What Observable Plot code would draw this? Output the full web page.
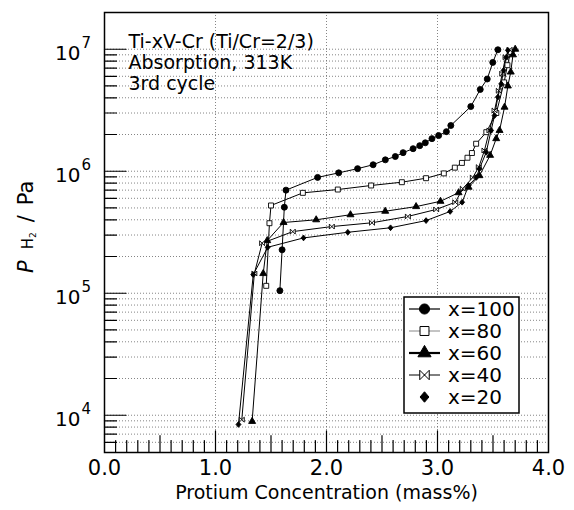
<!DOCTYPE html>
<html><head><meta charset="utf-8">
<script src="https://cdn.jsdelivr.net/npm/d3@7"></script>
<script src="https://cdn.jsdelivr.net/npm/@observablehq/plot@0.6"></script>
<style>body{margin:0;background:#fff;}</style>
</head><body><div id="chart"></div>
<script>
// ---- data ----
const seriesNames = ["x=100", "x=80", "x=60", "x=40", "x=20"];
const c100 = [1.58, 1.60, 1.62, 1.635, 1.92, 2.11, 2.28, 2.42, 2.53, 2.62, 2.69, 2.78, 2.84, 2.89, 2.95, 3.01, 3.08, 3.12, 3.30, 3.385, 3.448, 3.498, 3.544];
const p100 = [1.05e5, 2.27e5, 5.07e5, 7.0e5, 8.9e5, 9.7e5, 1.05e6, 1.13e6, 1.24e6, 1.32e6, 1.42e6, 1.53e6, 1.62e6, 1.71e6, 1.85e6, 1.96e6, 2.11e6, 2.37e6, 3.39e6, 4.68e6, 5.7e6, 7.8e6, 9.9e6];
const c80 = [1.457, 1.486, 1.50, 1.787, 2.102, 2.402, 2.679, 2.897, 3.057, 3.156, 3.22, 3.27, 3.31, 3.348, 3.44, 3.53, 3.60, 3.63, 3.66];
const p80 = [1.15e5, 3.75e5, 5.24e5, 6.65e5, 7.08e5, 7.64e5, 8.13e5, 8.77e5, 9.6e5, 1.07e6, 1.17e6, 1.29e6, 1.41e6, 1.68e6, 2.09e6, 3.0e6, 5.35e6, 7.4e6, 9.5e6];
const c60 = [1.33, 1.43, 1.466, 1.613, 1.907, 2.216, 2.529, 2.807, 3.027, 3.19, 3.28, 3.378, 3.474, 3.529, 3.559, 3.604, 3.634, 3.66, 3.68, 3.70];
const p60 = [8.9e3, 1.45e5, 2.7e5, 3.8e5, 4.0e5, 4.4e5, 4.7e5, 5.13e5, 5.67e5, 6.67e5, 7.4e5, 9.2e5, 1.35e6, 1.85e6, 2.16e6, 3.35e6, 5.0e6, 6.5e6, 9.0e6, 1.0e7];
const c40 = [1.237, 1.35, 1.42, 1.696, 2.048, 2.41, 2.733, 2.988, 3.16, 3.228, 3.318, 3.372, 3.423, 3.468, 3.514, 3.552, 3.583, 3.613, 3.649];
const p40 = [9.2e3, 1.45e5, 2.57e5, 3.2e5, 3.52e5, 3.78e5, 4.26e5, 4.86e5, 5.57e5, 7.2e5, 8.9e5, 1.08e6, 1.48e6, 2.16e6, 3.15e6, 4.57e6, 6.3e6, 8.6e6, 9.9e6];
const c20 = [1.207, 1.34, 1.47, 1.793, 2.192, 2.577, 2.897, 3.114, 3.222, 3.28, 3.35, 3.378, 3.439, 3.483, 3.514, 3.544, 3.574, 3.595, 3.619, 3.634];
const p20 = [8.4e3, 1.42e5, 2.38e5, 2.84e5, 3.16e5, 3.44e5, 3.94e5, 4.68e5, 5.57e5, 7.64e5, 8.9e5, 1.05e6, 1.43e6, 2.16e6, 2.86e6, 4.05e6, 5.2e6, 6.7e6, 8.6e6, 9.8e6];
const xTickLabels = [0, 1, 2, 3, 4];
const yDecades = [1e4, 1e5, 1e6, 1e7];
const noteLines = "Ti-xV-Cr (Ti/Cr=2/3)\nAbsorption, 313K\n3rd cycle";
const xTitle = "Protium Concentration (mass%)";

// ---- build table ----
const cs = [c100, c80, c60, c40, c20];
const ps = [p100, p80, p60, p40, p20];
const rows = seriesNames.flatMap((s, i) => cs[i].map((c, j) => ({s, c, p: ps[i][j]})));
const bySeries = s => rows.filter(d => d.s === s);

// ---- symbols ----
const bowtie = {draw(ctx, size) { const r = Math.sqrt(size) / 2; ctx.moveTo(-r, -r); ctx.lineTo(r, r); ctx.lineTo(r, -r); ctx.lineTo(-r, r); ctx.closePath(); }};
const diamond = {draw(ctx, size) { const r = Math.sqrt(size) / 1.6; ctx.moveTo(0, -r); ctx.lineTo(r * 0.85, 0); ctx.lineTo(0, r); ctx.lineTo(-r * 0.85, 0); ctx.closePath(); }};
const styles = {
  "x=100": {symbol: "circle", fill: "black", r: 3, line: "black", lw: 1.2},
  "x=80": {symbol: "square", fill: "white", r: 2.8, line: "#888", lw: 1},
  "x=60": {symbol: "triangle", fill: "black", r: 2.6, line: "black", lw: 2.2},
  "x=40": {symbol: bowtie, fill: "white", r: 2.8, line: "black", lw: 1},
  "x=20": {symbol: diamond, fill: "black", r: 2.6, line: null, lw: 0}
};

// grid / tick values
const yGrid = [];
for (let k = 3; k <= 7; k++) for (let m = 1; m <= 9; m++) { const v = m * 10 ** k; if (v > 5.0e3 && v < 2e7) yGrid.push(v); }
const xMinor = d3.range(1, 40).map(i => i / 10);
const tick = {draw(ctx, l) { ctx.moveTo(0, 0); ctx.lineTo(0, -l); }};
const font = "DejaVu Sans, Verdana, sans-serif";

const marks = [
  Plot.ruleY(yGrid, {stroke: "#666", strokeDasharray: "1,2", strokeWidth: 0.8}),
  Plot.ruleX([1, 2, 3], {stroke: "#666", strokeDasharray: "1,2", strokeWidth: 0.8})
];
for (const s of seriesNames) {
  marks.push(Plot.line(bySeries(s), {x: "c", y: "p", stroke: "black", strokeWidth: 1}));
}
for (const s of seriesNames) {
  const st = styles[s];
  marks.push(Plot.dot(bySeries(s), {x: "c", y: "p", symbol: st.symbol, fill: st.fill, stroke: "black", strokeWidth: 0.9, r: st.r}));
}
marks.push(
  Plot.frame({stroke: "black", strokeWidth: 1.5}),
  Plot.vector(yGrid, {y: d => d, frameAnchor: "left", rotate: 90, anchor: "start", length: d => yDecades.includes(d) ? 9 : 5, shape: tick, stroke: "black", strokeWidth: 1.2}),
  Plot.vector(xMinor, {x: d => d, frameAnchor: "bottom", rotate: 0, anchor: "start", length: d => (Math.round(d * 10) % 10 === 0) ? 9 : (Math.round(d * 10) % 5 === 0 ? 7 : 5), shape: tick, stroke: "black", strokeWidth: 1.2}),
  Plot.text(xTickLabels, {x: d => d, frameAnchor: "bottom", dy: 22, text: d => d.toFixed(1), fontSize: 21, fill: "black"}),
  Plot.text(yDecades, {y: d => d, frameAnchor: "left", dx: -24, dy: 4, textAnchor: "end", text: () => "10", fontSize: 20, fill: "black"}),
  Plot.text(yDecades, {y: d => d, frameAnchor: "left", dx: -23, dy: -6, textAnchor: "start", text: d => String(Math.round(Math.log10(d))), fontSize: 15, fill: "black"}),
  Plot.text([xTitle], {frameAnchor: "bottom", dy: 46, text: d => d, fontSize: 19, fill: "black"}),
  Plot.text([noteLines], {frameAnchor: "top-left", dx: 24, dy: 21, lineAnchor: "top", textAnchor: "start", lineHeight: 1.1, text: d => d, fontSize: 19, fill: "black"})
);

const chart = Plot.plot({
  width: 574, height: 510,
  marginLeft: 104, marginRight: 26, marginTop: 12, marginBottom: 58,
  x: {domain: [0, 4], axis: null},
  y: {type: "log", domain: [4.95e3, 2e7], axis: null},
  style: {fontFamily: font, background: "white", overflow: "visible"},
  marks
});
document.getElementById("chart").appendChild(chart);

// ---- y axis title with subscript ----
const svg = d3.select(chart);
const yt = svg.append("text").attr("transform", "translate(33,273) rotate(-90)")
  .attr("text-anchor", "start").attr("font-family", font).attr("font-size", 21).attr("fill", "black");
yt.append("tspan").attr("font-style", "italic").text("P");
yt.append("tspan").attr("dx", 11).attr("font-size", 15).text("H");
yt.append("tspan").attr("font-size", 9).attr("dy", 3).text("2");
yt.append("tspan").attr("dx", 10).attr("dy", -3).text("/");
yt.append("tspan").attr("dx", 10).text("Pa");

// ---- legend ----
const lg = svg.append("g").attr("font-family", font).attr("text-anchor", "start");
lg.append("rect").attr("x", 404).attr("y", 297).attr("width", 115).attr("height", 116)
  .attr("fill", "white").attr("stroke", "black").attr("stroke-width", 1.5);
const legendSym = {"x=100": d3.symbolCircle, "x=80": d3.symbolSquare, "x=60": d3.symbolTriangle, "x=40": bowtie, "x=20": diamond};
const legendSize = {"x=100": 80, "x=80": 80, "x=60": 75, "x=40": 90, "x=20": 70};
seriesNames.forEach((s, i) => {
  const y = 309 + i * 22, st = styles[s];
  if (st.line) lg.append("line").attr("x1", 409).attr("x2", 440).attr("y1", y).attr("y2", y).attr("stroke", st.line).attr("stroke-width", st.lw);
  lg.append("path").attr("transform", `translate(424.5,${y})`).attr("d", d3.symbol(legendSym[s], legendSize[s])())
    .attr("fill", st.fill).attr("stroke", "black").attr("stroke-width", 1);
  lg.append("text").attr("x", 448).attr("y", y).attr("dy", "0.36em").attr("font-size", 20).attr("fill", "black").text(s);
});
</script>
</body></html>
